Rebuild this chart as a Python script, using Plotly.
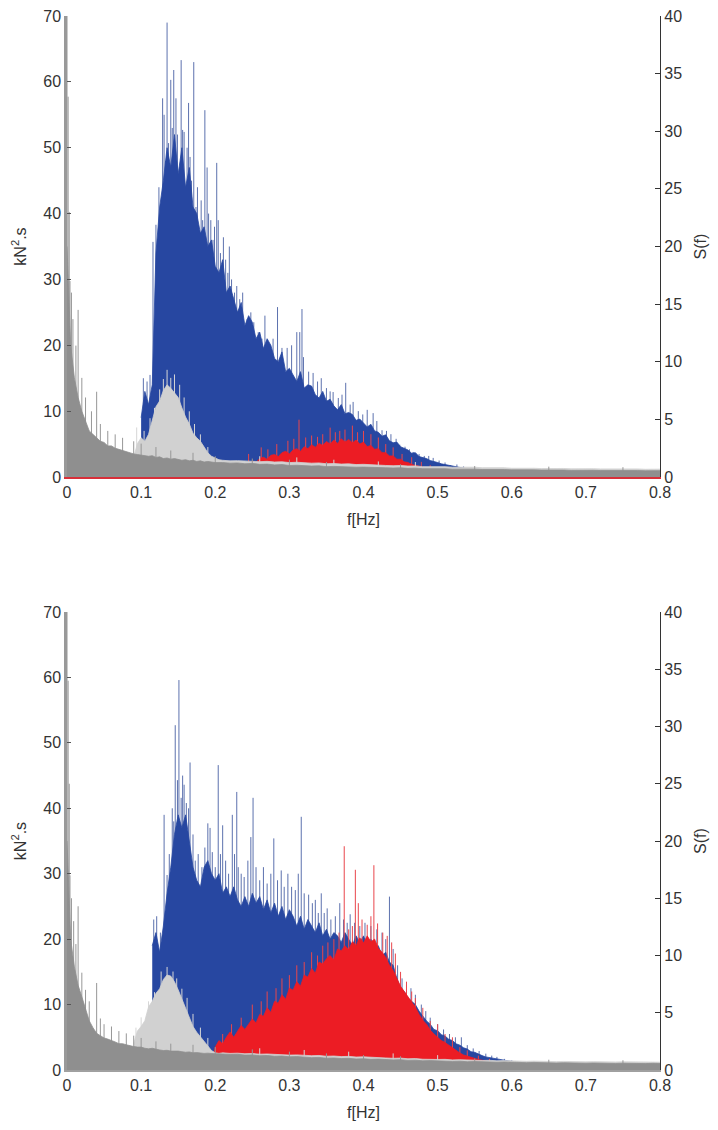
import plotly.graph_objects as go
from plotly.subplots import make_subplots

# ---------------- data ----------------
STEP = 0.005      # spacing of the "body" samples
TAIL_STEP = 0.01  # spacing of the low gray tails
X_TICKS = [0, 0.1, 0.2, 0.3, 0.4, 0.5, 0.6, 0.7, 0.8]
X_LABELS = ["0", "0.1", "0.2", "0.3", "0.4", "0.5", "0.6", "0.7", "0.8"]

# ---- top panel: force spectra, kN^2.s (left axis) ----
TOP_BLUE_START = 0.100
TOP_BLUE_BODY = [9, 13, 11, 14, 34, 41, 45, 50, 47, 52, 46, 50, 44, 47, 41, 40, 37, 38, 35, 36,
                 32, 31, 33, 28, 29, 27, 25, 26.5, 23, 24.5, 23.5, 21, 22, 19.5, 21, 20, 18, 17.5,
                 19, 16, 16.5, 15.5, 14.5, 16, 13.5, 14, 13.8, 12.5, 12, 13, 11.5, 11.8, 10.8, 10.2,
                 11, 9.6, 9.8, 9.5, 8.6, 8.8, 8.2, 7.6, 8, 7, 6.8, 6.2, 6.4, 5.5, 5.2, 5.3, 4.6,
                 4.3, 4.1, 3.6, 3.7, 3.1, 3, 2.8, 2.5, 2.4, 2.2, 2, 1.9, 1.7, 1.6, 1.5, 1.4, 1.3,
                 1.2, 1.1, 1.0, 0.9, 0]
TOP_BLUE_SPIKES = [(0.103, 15), (0.108, 14.5), (0.112, 15.5), (0.116, 35.7), (0.120, 38.3), (0.124, 44),
                   (0.127, 40.5), (0.129, 57.5), (0.131, 55), (0.133, 48), (0.135, 69), (0.137, 50.7),
                   (0.140, 60.3), (0.142, 53), (0.144, 61.8), (0.147, 57.5), (0.149, 52), (0.152, 47),
                   (0.154, 63.3), (0.156, 52.7), (0.158, 52.4), (0.160, 43), (0.162, 50), (0.164, 56.8),
                   (0.166, 48.6), (0.168, 45), (0.171, 63), (0.174, 41), (0.176, 44), (0.178, 37.5),
                   (0.181, 42), (0.183, 39), (0.186, 55.7), (0.189, 47), (0.191, 40), (0.194, 39),
                   (0.197, 36), (0.199, 38), (0.202, 47.7), (0.204, 39), (0.207, 34), (0.211, 36.4),
                   (0.214, 33), (0.217, 31), (0.219, 35), (0.222, 30), (0.226, 28), (0.229, 29),
                   (0.233, 27), (0.237, 28), (0.243, 24), (0.248, 25), (0.252, 23.5), (0.258, 22),
                   (0.263, 21), (0.267, 24.5), (0.272, 20), (0.278, 21), (0.284, 25.8), (0.290, 19.6),
                   (0.297, 19.6), (0.303, 20), (0.310, 22), (0.314, 22), (0.317, 25.5), (0.319, 18.2),
                   (0.326, 16), (0.332, 15.8), (0.338, 14.5), (0.343, 15), (0.350, 13.5), (0.355, 13),
                   (0.359, 12.9), (0.366, 12), (0.371, 12.5), (0.376, 14.3), (0.382, 11), (0.386, 11.4),
                   (0.393, 10), (0.399, 9.5), (0.405, 10.2), (0.413, 9.7), (0.418, 8.5), (0.425, 7.1),
                   (0.431, 7), (0.437, 6.5), (0.444, 5.8), (0.449, 4.9), (0.456, 4.6), (0.462, 4.2),
                   (0.467, 3.8), (0.475, 3.5), (0.482, 3.2), (0.488, 3.2), (0.494, 2.9), (0.502, 2.5),
                   (0.510, 2.2), (0.517, 1.8), (0.526, 1.9), (0.535, 1.6), (0.545, 1.4)]

TOP_RED_START = 0.235
TOP_RED_BODY = [0.5, 1.5, 2, 2.4, 2.2, 2.8, 3, 2.7, 3.3, 3.4, 3.1, 3.7, 3.9, 3.5, 4.1, 4.3, 3.9, 4.6,
                4.3, 4.9, 4.5, 5.1, 4.8, 5.4, 5, 5.6, 5.1, 5.8, 5.3, 5.7, 5.2, 5.6, 5, 5.3, 4.6, 4.8,
                4.2, 4.3, 3.7, 3.7, 3.2, 3.2, 2.7, 2.7, 2.3, 2.2, 1.9, 1.8, 1.6, 1.5, 1.3, 1.2, 1,
                0.9, 0.7, 0]
TOP_RED_SPIKES = [(0.245, 3.5), (0.262, 4.5), (0.271, 4.2), (0.283, 5), (0.298, 5.5), (0.306, 5.8),
                  (0.313, 8.7), (0.322, 6), (0.330, 6.3), (0.338, 6.1), (0.345, 6.5), (0.355, 7.5),
                  (0.362, 6.8), (0.368, 7), (0.375, 7.2), (0.385, 7.8), (0.392, 6.8), (0.400, 7),
                  (0.410, 6.5), (0.420, 6), (0.430, 5), (0.440, 4.5), (0.452, 3.5), (0.465, 3),
                  (0.478, 2.3), (0.490, 1.8)]

# ---- top panel: wave spectra S(f) (right axis) ----
TOP_LGRAY_START = 0.090
TOP_LGRAY_HEAD = [1.7, 2.9, 3.4, 3.1, 3.7, 4.9, 6.1, 6.6, 7.5, 8.0, 7.7, 7.3, 6.9, 6.0, 5.2, 4.6,
                  3.8, 3.4, 3.1, 2.6, 2.1, 1.8, 1.65, 1.5]
TOP_LGRAY_TAIL_START = 0.21
TOP_LGRAY_TAIL = [1.45, 1.4, 1.42, 1.38, 1.4, 1.33, 1.36, 1.3, 1.32, 1.25, 1.28, 1.22, 1.2, 1.22,
                  1.15, 1.17, 1.12, 1.14, 1.08, 1.1, 1.05, 1.06, 1.0, 0.98, 1.0, 0.95, 0.96, 0.9,
                  0.92, 0.88, 0.9, 0.85, 0.87, 0.83, 0.85, 0.8, 0.82, 0.78, 0.8, 0.76, 0.78, 0.74,
                  0.76, 0.73, 0.75, 0.72, 0.74, 0.71, 0.73, 0.7, 0.72, 0.7, 0.71, 0.69, 0.71, 0.68,
                  0.7, 0.67, 0.69, 0.68]
TOP_LGRAY_SPIKES = [(0.094, 4.3), (0.104, 4.0), (0.112, 5.1), (0.118, 6.0), (0.125, 7.6), (0.130, 8.5),
                    (0.135, 9.3), (0.140, 8.6), (0.145, 8.9), (0.152, 8.0), (0.158, 6.9), (0.165, 5.7),
                    (0.172, 4.6), (0.180, 3.7), (0.190, 2.6), (0.260, 1.8), (0.310, 1.7), (0.360, 1.5),
                    (0.420, 1.35), (0.470, 1.3)]

TOP_DGRAY_START = 0.0
TOP_DGRAY_HEAD = [20, 11.4, 8.6, 6.9, 5.7, 4.9, 4.0, 3.7, 3.4, 3.1, 3.0, 2.7, 2.7, 2.5, 2.4, 2.3,
                  2.2, 2.05, 2.0, 1.95, 1.9, 1.85, 1.8, 1.85, 1.7, 1.75, 1.6, 1.65, 1.55, 1.6, 1.5,
                  1.45, 1.5, 1.4, 1.45, 1.35, 1.4, 1.3, 1.35, 1.3, 1.25]
TOP_DGRAY_TAIL_START = 0.21
TOP_DGRAY_TAIL = [1.25, 1.2, 1.22, 1.15, 1.18, 1.1, 1.12, 1.05, 1.08, 1.0, 1.02, 0.98, 0.95, 0.97,
                  0.9, 0.92, 0.88, 0.9, 0.85, 0.86, 0.82, 0.84, 0.8, 0.78, 0.8, 0.75, 0.77, 0.72,
                  0.74, 0.7, 0.72, 0.68, 0.7, 0.66, 0.68, 0.65, 0.66, 0.63, 0.65, 0.62, 0.64, 0.6,
                  0.62, 0.6, 0.61, 0.58, 0.6, 0.57, 0.59, 0.56, 0.58, 0.56, 0.57, 0.55, 0.57, 0.55,
                  0.56, 0.54, 0.56, 0.55]
TOP_DGRAY_SPIKES = [(0.0, 43), (0.0015, 33), (0.003, 23), (0.004, 17), (0.006, 16), (0.008, 13.7),
                    (0.012, 11.4), (0.015, 14.5), (0.020, 8.6), (0.025, 6.9), (0.033, 5.7), (0.040, 7.4),
                    (0.045, 4.6), (0.055, 4.0), (0.065, 3.7), (0.075, 3.4), (0.090, 3.1), (0.100, 2.9),
                    (0.120, 2.6), (0.140, 2.3), (0.170, 2.1), (0.200, 1.8), (0.250, 1.6), (0.300, 1.5),
                    (0.350, 1.3), (0.450, 1.1), (0.550, 0.95), (0.650, 0.9), (0.750, 0.85)]

# ---- bottom panel: force spectra, kN^2.s (left axis) ----
BOT_BLUE_START = 0.115
BOT_BLUE_BODY = [19, 21, 18, 22, 27, 31, 36, 39, 37, 39, 35, 31, 29, 28, 31, 32, 30, 29, 30, 27,
                 28, 26.5, 28, 26, 25, 26.5, 25, 27, 25.5, 26.5, 24.5, 26, 24, 25.5, 23.5, 25, 23,
                 24.5, 23.5, 22, 23.5, 21.5, 23, 22, 21, 22.5, 20.5, 21.5, 20, 21, 20.5, 19.5, 21,
                 20, 19, 20.5, 19.5, 20.5, 19, 20, 18.5, 19, 17.5, 18, 16.5, 16, 14, 12.5, 12, 11,
                 10.5, 10, 9, 8.2, 7.5, 7, 6.2, 6, 5.4, 5.2, 4.7, 4.5, 4, 3.8, 3.4, 3.2, 2.8, 2.7,
                 2.4, 2.2, 2, 1.9, 1.7, 1.6, 1.5, 1.4, 1.3, 1.2, 1.1, 1, 0.95, 0.9, 0.8, 0.7, 0.6,
                 0.5, 0]
BOT_BLUE_SPIKES = [(0.117, 23), (0.121, 23.5), (0.126, 21), (0.131, 39), (0.135, 29.8), (0.138, 33),
                   (0.142, 40), (0.144, 38), (0.146, 52.7), (0.149, 44.3), (0.151, 59.6), (0.154, 41.6),
                   (0.156, 45), (0.158, 43.6), (0.161, 40.8), (0.164, 40), (0.166, 47), (0.170, 36),
                   (0.173, 32), (0.177, 33), (0.182, 31), (0.186, 34), (0.190, 37.7), (0.193, 37),
                   (0.196, 33.3), (0.200, 31), (0.204, 46.6), (0.207, 33), (0.210, 37.4), (0.214, 32),
                   (0.218, 30), (0.223, 39), (0.226, 33), (0.229, 42.5), (0.231, 31), (0.235, 30),
                   (0.239, 29.5), (0.244, 32), (0.248, 35.6), (0.251, 41.6), (0.255, 31), (0.260, 29),
                   (0.265, 31), (0.270, 28.5), (0.275, 30), (0.279, 35.4), (0.284, 29), (0.289, 30.5),
                   (0.293, 28), (0.298, 30), (0.303, 28), (0.308, 27.5), (0.312, 30), (0.316, 38.7),
                   (0.320, 27), (0.326, 26.8), (0.331, 25.5), (0.335, 26), (0.339, 24), (0.343, 27),
                   (0.347, 24), (0.351, 24.7), (0.356, 23), (0.362, 23.5), (0.368, 25.5), (0.373, 23),
                   (0.378, 22.5), (0.382, 23.8), (0.388, 22.5), (0.395, 22), (0.402, 22.5), (0.410, 22),
                   (0.418, 21.5), (0.425, 21), (0.430, 20), (0.435, 26.5), (0.440, 18.5), (0.446, 16),
                   (0.452, 14), (0.458, 13), (0.464, 12.5), (0.470, 11.5), (0.478, 10), (0.484, 9),
                   (0.490, 8), (0.500, 7), (0.508, 6.2), (0.516, 5.5), (0.524, 5), (0.532, 5),
                   (0.540, 3.8), (0.548, 3.3), (0.556, 2.9), (0.565, 2.5), (0.573, 2.2), (0.580, 2),
                   (0.590, 1.7), (0.600, 1.5), (0.610, 1.2), (0.620, 1), (0.630, 0.9)]

BOT_RED_START = 0.195
BOT_RED_BODY = [1, 3.5, 4.5, 4, 5, 5.8, 5, 6, 6.8, 6.2, 7, 7.8, 7.2, 8.5, 8.2, 9.5, 8.8, 10.5, 10.2,
                11.5, 10.8, 12.5, 12.2, 13.5, 12.8, 14.5, 14.2, 15.5, 14.8, 16.5, 16.2, 17, 17.5,
                16.8, 18.5, 18.2, 19, 18.4, 19.6, 19, 20.2, 19.4, 20.5, 19.6, 20, 18.6, 18, 17.2,
                16, 15.2, 14, 12.8, 12, 11.2, 10.5, 9.6, 8.5, 7.6, 7, 6.1, 5.5, 5, 4.5, 4.2, 3.8,
                3.3, 3, 2.6, 2.3, 2.1, 1.9, 1.7, 1.6, 1.5, 1.4, 1.3, 1.2, 1.1, 1, 0.8, 0]
BOT_RED_SPIKES = [(0.210, 5.5), (0.222, 7), (0.235, 8), (0.250, 10), (0.262, 10.5), (0.270, 12),
                  (0.282, 12.5), (0.290, 14), (0.300, 14.5), (0.310, 16), (0.320, 16.5), (0.330, 18),
                  (0.338, 17.5), (0.345, 19), (0.352, 19.5), (0.360, 20), (0.367, 21), (0.374, 34.2),
                  (0.380, 21.5), (0.385, 22), (0.389, 30.6), (0.393, 25.5), (0.398, 23), (0.405, 22.2),
                  (0.410, 23.5), (0.414, 31.3), (0.419, 22.4), (0.426, 21), (0.432, 20.5), (0.438, 19.5),
                  (0.443, 17.8), (0.450, 15), (0.458, 13.5), (0.465, 12), (0.470, 11), (0.480, 9.5),
                  (0.490, 7.5), (0.500, 7), (0.510, 5.5), (0.520, 5), (0.530, 3.5), (0.540, 3),
                  (0.555, 2.2), (0.570, 1.7)]

# ---- bottom panel: wave spectra S(f) (right axis) ----
BOT_LGRAY_START = 0.090
BOT_LGRAY_HEAD = [2.3, 3.4, 3.8, 4.3, 5.5, 6.0, 6.7, 7.1, 7.9, 8.3, 8.2, 7.7, 7.0, 6.2, 5.3, 4.6,
                  3.8, 3.3, 2.9, 2.4, 2.0, 1.7, 1.5, 1.45]
BOT_LGRAY_TAIL_START = 0.21
BOT_LGRAY_TAIL = [1.5, 1.45, 1.47, 1.42, 1.44, 1.38, 1.4, 1.35, 1.36, 1.3, 1.32, 1.27, 1.25, 1.27,
                  1.2, 1.22, 1.17, 1.19, 1.13, 1.15, 1.1, 1.1, 1.05, 1.02, 1.04, 0.98, 1.0, 0.94,
                  0.96, 0.92, 0.93, 0.88, 0.9, 0.86, 0.88, 0.83, 0.85, 0.8, 0.82, 0.78, 0.8, 0.76,
                  0.78, 0.75, 0.77, 0.73, 0.75, 0.72, 0.74, 0.71, 0.73, 0.7, 0.72, 0.7, 0.71, 0.69,
                  0.7, 0.68, 0.69, 0.68]
BOT_LGRAY_SPIKES = [(0.093, 3.7), (0.100, 4.6), (0.110, 6.0), (0.118, 6.8), (0.127, 8.6), (0.135, 9.0),
                    (0.143, 8.6), (0.148, 8.0), (0.155, 7.1), (0.162, 6.3), (0.170, 4.9), (0.180, 3.7),
                    (0.190, 2.8), (0.260, 1.9), (0.320, 1.75), (0.380, 1.6), (0.440, 1.45), (0.500, 1.3)]

BOT_DGRAY_START = 0.0
BOT_DGRAY_HEAD = [20, 11.4, 9.0, 7.4, 6.4, 5.4, 4.3, 3.7, 3.2, 3.0, 2.8, 2.7, 2.6, 2.45, 2.3, 2.3,
                  2.2, 2.1, 2.05, 2.0, 2.0, 1.9, 1.85, 1.9, 1.8, 1.75, 1.7, 1.72, 1.65, 1.68, 1.65,
                  1.6, 1.55, 1.58, 1.5, 1.52, 1.48, 1.45, 1.47, 1.43, 1.42]
BOT_DGRAY_TAIL_START = 0.21
BOT_DGRAY_TAIL = [1.4, 1.35, 1.37, 1.3, 1.32, 1.25, 1.27, 1.2, 1.22, 1.15, 1.17, 1.1, 1.08, 1.1,
                  1.03, 1.05, 1.0, 1.02, 0.96, 0.98, 0.93, 0.95, 0.9, 0.88, 0.9, 0.84, 0.86, 0.8,
                  0.82, 0.78, 0.8, 0.75, 0.77, 0.72, 0.74, 0.7, 0.72, 0.68, 0.7, 0.66, 0.68, 0.64,
                  0.66, 0.63, 0.65, 0.61, 0.63, 0.6, 0.62, 0.59, 0.61, 0.58, 0.6, 0.57, 0.59, 0.57,
                  0.58, 0.56, 0.58, 0.57]
BOT_DGRAY_SPIKES = [(0.0, 43), (0.0015, 34), (0.003, 25), (0.004, 17), (0.006, 15), (0.009, 13),
                    (0.012, 11), (0.015, 14.3), (0.020, 8.5), (0.025, 7), (0.030, 6), (0.040, 7.6),
                    (0.045, 4.5), (0.050, 4), (0.060, 3.8), (0.070, 3.4), (0.080, 3.2), (0.090, 3),
                    (0.100, 2.8), (0.120, 2.5), (0.140, 2.3), (0.170, 2.2), (0.200, 2.0), (0.250, 1.8),
                    (0.300, 1.6), (0.350, 1.45), (0.400, 1.3), (0.450, 1.2), (0.550, 1.0), (0.650, 0.9),
                    (0.750, 0.85)]

# ---------------- styling ----------------
BLUE, BLUE_TIP = "#2747a1", "#5c71ae"
RED, RED_TIP = "#ec1c24", "#e9464c"
LGRAY, LGRAY_TIP = "#d1d1d1", "#d6d6d6"
DGRAY, DGRAY_TIP = "#8f8f8f", "#979797"
FONT = "Arial, 'Liberation Sans', Helvetica, sans-serif"
TXT = "#333333"


def grid(start, step, vals):
    return [round(start + i * step, 4) for i in range(len(vals))]


def body(xs, ys, color):
    return go.Scatter(x=xs, y=ys, mode="lines", fill="tozeroy", fillcolor=color,
                      line=dict(color=color, width=0.8), hoverinfo="skip", showlegend=False)


def needles(spikes, color):
    xs, ys = [], []
    for f, v in spikes:
        xs += [f, f, None]
        ys += [0, v, None]
    return go.Scatter(x=xs, y=ys, mode="lines", line=dict(color=color, width=1),
                      hoverinfo="skip", showlegend=False)


fig = make_subplots(rows=2, cols=1, specs=[[{"secondary_y": True}], [{"secondary_y": True}]])

panels = [
    (1, TOP_BLUE_START, TOP_BLUE_BODY, TOP_BLUE_SPIKES, TOP_RED_START, TOP_RED_BODY, TOP_RED_SPIKES,
     TOP_LGRAY_START, TOP_LGRAY_HEAD, TOP_LGRAY_TAIL_START, TOP_LGRAY_TAIL, TOP_LGRAY_SPIKES,
     TOP_DGRAY_START, TOP_DGRAY_HEAD, TOP_DGRAY_TAIL_START, TOP_DGRAY_TAIL, TOP_DGRAY_SPIKES),
    (2, BOT_BLUE_START, BOT_BLUE_BODY, BOT_BLUE_SPIKES, BOT_RED_START, BOT_RED_BODY, BOT_RED_SPIKES,
     BOT_LGRAY_START, BOT_LGRAY_HEAD, BOT_LGRAY_TAIL_START, BOT_LGRAY_TAIL, BOT_LGRAY_SPIKES,
     BOT_DGRAY_START, BOT_DGRAY_HEAD, BOT_DGRAY_TAIL_START, BOT_DGRAY_TAIL, BOT_DGRAY_SPIKES),
]

for (row, bs, bb, bk, rs, rb, rk, ls, lh, lts, lt, lk, ds, dh, dts, dt, dk) in panels:
    # needles first, so that only their tips show above each filled body
    fig.add_trace(needles(bk, BLUE_TIP), row=row, col=1, secondary_y=False)
    fig.add_trace(body(grid(bs, STEP, bb), bb, BLUE), row=row, col=1, secondary_y=False)
    fig.add_trace(needles(rk, RED_TIP), row=row, col=1, secondary_y=False)
    fig.add_trace(body(grid(rs, STEP, rb), rb, RED), row=row, col=1, secondary_y=False)
    lx = grid(ls, STEP, lh) + grid(lts, TAIL_STEP, lt)
    fig.add_trace(needles(lk, LGRAY_TIP), row=row, col=1, secondary_y=True)
    fig.add_trace(body(lx, lh + lt, LGRAY), row=row, col=1, secondary_y=True)
    dx = grid(ds, STEP, dh) + grid(dts, TAIL_STEP, dt)
    fig.add_trace(needles(dk, DGRAY_TIP), row=row, col=1, secondary_y=True)
    fig.add_trace(body(dx, dh + dt, DGRAY), row=row, col=1, secondary_y=True)

H = 1130.0
top_dom = [1 - 477 / H, 1 - 16 / H]
bot_dom = [1 - 1070 / H, 1 - 612 / H]

tfont = dict(family=FONT, size=16, color=TXT)
xcommon = dict(range=[0, 0.8], tickvals=X_TICKS, ticktext=X_LABELS,
               ticks="", showgrid=False, zeroline=False, showline=True, linewidth=1.5,
               tickfont=tfont, automargin=False,
               title=dict(text="f[Hz]", font=tfont, standoff=14))
yleft = dict(range=[0, 70], dtick=10, ticks="inside", ticklen=4, tickcolor="#555555",
             showgrid=False, zeroline=False, showline=True, linecolor="#999999", linewidth=2.5,
             tickfont=tfont, automargin=False,
             title=dict(text="kN<sup>2</sup>.s", font=tfont, standoff=13))
yright = dict(range=[0, 40], dtick=5, ticks="inside", ticklen=5, tickcolor="#333333",
              showgrid=False, zeroline=False, showline=True, linecolor="#333333", linewidth=1.2,
              tickfont=tfont, automargin=False,
              title=dict(text="S(f)", font=tfont, standoff=13))

fig.update_layout(
    width=718, height=1130,
    margin=dict(l=67, r=58, t=0, b=0),
    paper_bgcolor="white", plot_bgcolor="white",
    showlegend=False,
    xaxis=dict(xcommon, domain=[0, 1], linecolor="#d8303a"),
    xaxis2=dict(xcommon, domain=[0, 1], linecolor="#a0a0a0"),
    yaxis=dict(yleft, domain=top_dom),
    yaxis2=dict(yright, domain=top_dom),
    yaxis3=dict(yleft, domain=bot_dom),
    yaxis4=dict(yright, domain=bot_dom),
)

fig.write_html("out.html")
